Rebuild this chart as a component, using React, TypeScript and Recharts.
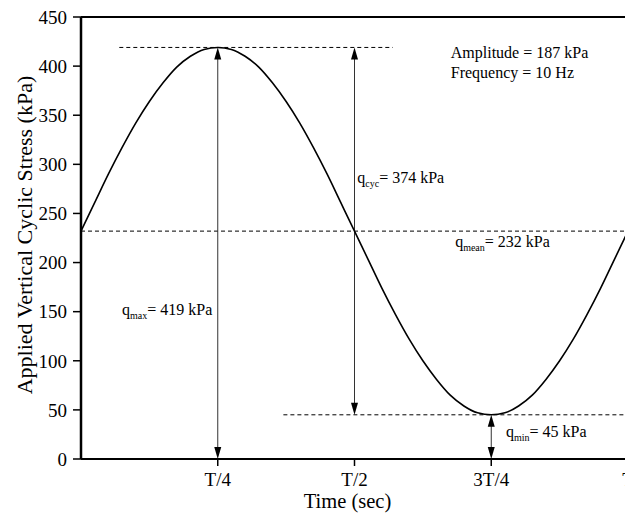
import React from "react";
import {
  LineChart, Line, XAxis, YAxis, ReferenceLine, ReferenceDot,
} from "recharts";

// one loading cycle, time as a fraction of the period T
const timeFrac = [
  0, 0.025, 0.05, 0.075, 0.1, 0.125, 0.15, 0.175, 0.2, 0.225, 0.25,
  0.275, 0.3, 0.325, 0.35, 0.375, 0.4, 0.425, 0.45, 0.475, 0.5,
  0.525, 0.55, 0.575, 0.6, 0.625, 0.65, 0.675, 0.7, 0.725, 0.75,
  0.775, 0.8, 0.825, 0.85, 0.875, 0.9, 0.925, 0.95, 0.975, 1,
];
const stressKPa = [
  232, 261, 290, 317, 342, 364, 383, 399, 410, 417, 419,
  417, 410, 399, 383, 364, 342, 317, 290, 261, 232,
  203, 174, 147, 122, 100, 81, 65, 54, 47, 45,
  47, 54, 65, 81, 100, 122, 147, 174, 203, 232,
];

const xTicks = [0.25, 0.5, 0.75, 1];
const xTickLabels = ["T/4", "T/2", "3T/4", "T"];
const yTicks = [0, 50, 100, 150, 200, 250, 300, 350, 400, 450];

const qMax = 419;
const qMean = 232;
const qMin = 45;

const data = timeFrac.map((t, i) => ({ t, stress: stressKPa[i] }));

const FONT = "'Liberation Serif', 'Times New Roman', serif";
const serif = { fontFamily: FONT };

const VArrow = (p: any) => {
  const x = p.x1;
  const top = Math.min(p.y1, p.y2);
  const bot = Math.max(p.y1, p.y2);
  const h = 12, w = 3.5;
  return (
    <g>
      <line x1={x} y1={top + h - 1} x2={x} y2={bot - h + 1} stroke="#333" strokeWidth={1} />
      <polygon points={`${x},${top} ${x - w},${top + h} ${x + w},${top + h}`} fill="#000" />
      <polygon points={`${x},${bot} ${x - w},${bot - h} ${x + w},${bot - h}`} fill="#000" />
    </g>
  );
};

// text with an optional subscript after the leading "q"
const note = (main: string, sub: string | null, rest: string) => (p: any) => (
  <text x={p.cx} y={p.cy} style={serif} fontSize={16} fill="#000">
    {main}
    {sub && <tspan fontSize={10} dy={4}>{sub}</tspan>}
    <tspan dy={sub ? -4 : 0}>{rest}</tspan>
  </text>
);

const XTitle = (p: any) => {
  const vb = p.viewBox;
  return (
    <text x={vb.x + vb.width / 2 - 7} y={vb.y + vb.height - 9} textAnchor="middle"
      style={serif} fontSize={20.5} fill="#000">Time (sec)</text>
  );
};

const YTitle = (p: any) => {
  const vb = p.viewBox;
  const x = vb.x + 32;
  const y = vb.y + vb.height / 2 - 3;
  return (
    <text x={x} y={y} transform={`rotate(-90 ${x} ${y})`} textAnchor="middle"
      style={serif} fontSize={22} fill="#000">Applied Vertical Cyclic Stress (kPa)</text>
  );
};

export default function App() {
  const tick = { fontSize: 19, fill: "#000", style: serif };
  return (
    <div style={{ position: "absolute", left: 0, top: 0, width: 625, height: 517, overflow: "hidden", background: "#fff", fontFamily: FONT }}>
      <LineChart width={660} height={517} data={data} margin={{ top: 17, right: 32, left: 0, bottom: 0 }} style={serif}>
        <XAxis
          type="number"
          dataKey="t"
          domain={[0, 1]}
          ticks={xTicks}
          tickFormatter={(v) => xTickLabels[xTicks.indexOf(v)]}
          height={58}
          tick={tick}
          tickSize={7}
          tickMargin={7}
          stroke="#000"
          axisLine={{ stroke: "#000", strokeWidth: 2 }}
          tickLine={{ stroke: "#000", strokeWidth: 1.5 }}
          label={<XTitle />}
        />
        <YAxis
          type="number"
          domain={[0, 450]}
          ticks={yTicks}
          width={81}
          tick={tick}
          tickSize={8}
          tickMargin={6}
          stroke="#000"
          axisLine={{ stroke: "#000", strokeWidth: 2.5 }}
          tickLine={{ stroke: "#000", strokeWidth: 1.5 }}
          label={<YTitle />}
        />
        <ReferenceLine y={450} stroke="#000" strokeWidth={2} />

        <ReferenceLine segment={[{ x: 0.07, y: qMax }, { x: 0.57, y: qMax }]} stroke="#000" strokeWidth={1} strokeDasharray="4 3" />
        <ReferenceLine segment={[{ x: 0, y: qMean }, { x: 1, y: qMean }]} stroke="#000" strokeWidth={1} strokeDasharray="4 3" />
        <ReferenceLine segment={[{ x: 0.37, y: qMin }, { x: 1, y: qMin }]} stroke="#000" strokeWidth={1} strokeDasharray="4 3" />

        <ReferenceLine segment={[{ x: 0.25, y: 0 }, { x: 0.25, y: qMax }]} shape={VArrow} />
        <ReferenceLine segment={[{ x: 0.5, y: qMin }, { x: 0.5, y: qMax }]} shape={VArrow} />
        <ReferenceLine segment={[{ x: 0.75, y: 0 }, { x: 0.75, y: qMin }]} shape={VArrow} />

        <Line
          type="monotone"
          dataKey="stress"
          stroke="#000"
          strokeWidth={1.6}
          dot={false}
          isAnimationActive={false}
        />

        <ReferenceDot x={0.676} y={408} r={0} shape={note("Amplitude = 187 kPa", null, "")} />
        <ReferenceDot x={0.676} y={388} r={0} shape={note("Frequency = 10 Hz", null, "")} />
        <ReferenceDot x={0.505} y={281} r={0} shape={note("q", "cyc", "= 374 kPa")} />
        <ReferenceDot x={0.684} y={216} r={0} shape={note("q", "mean", "= 232 kPa")} />
        <ReferenceDot x={0.075} y={147} r={0} shape={note("q", "max", "= 419 kPa")} />
        <ReferenceDot x={0.777} y={22} r={0} shape={note("q", "min", "= 45 kPa")} />
      </LineChart>
    </div>
  );
}
